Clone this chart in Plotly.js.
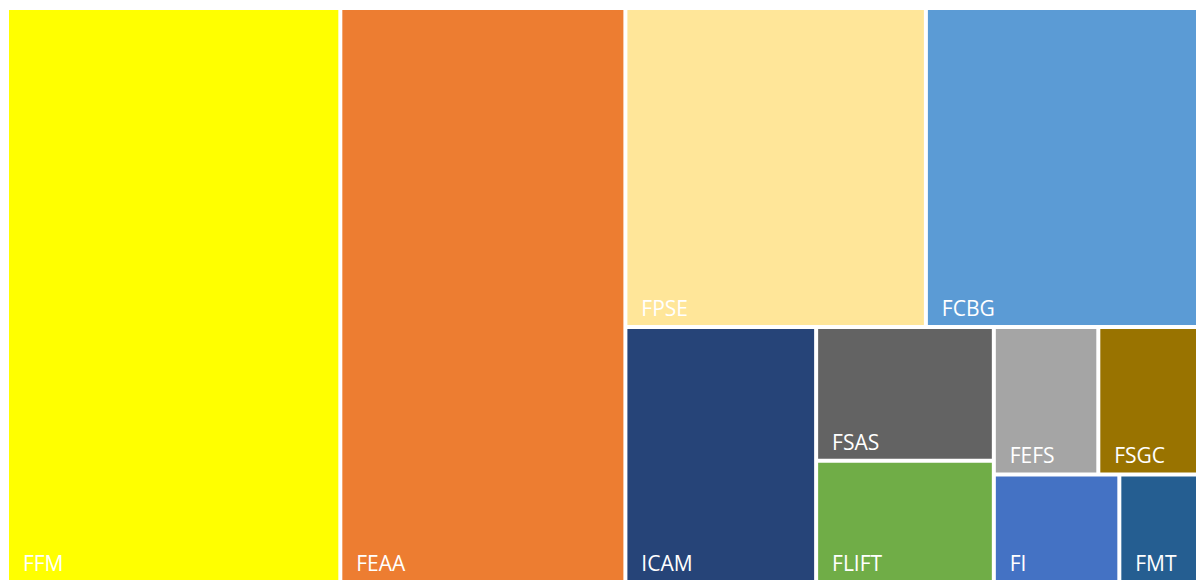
<!DOCTYPE html>
<html>
<head>
<meta charset="utf-8">
<script src="https://cdn.plot.ly/plotly-3.0.1.min.js"></script>
<style>html,body{margin:0;padding:0;background:#fff;}#chart{width:1196px;height:580px;}</style>
</head>
<body>
<div id="chart"></div>
<script>
const labels = ["FFM", "FEAA", "FPSE", "FCBG", "ICAM", "FSAS", "FLIFT", "FEFS", "FSGC", "FI", "FMT"];
const values = [1900, 1625, 952, 862, 483, 236, 214, 153, 146, 134, 84];
const colors = ["#FFFF00", "#ED7D31", "#FFE699", "#5B9BD5", "#264478", "#636363", "#70AD47", "#A5A5A5", "#997300", "#4472C4", "#255E91"];
const parents = labels.map(() => "");

const trace = {
  type: "treemap",
  labels: labels,
  parents: parents,
  values: values,
  branchvalues: "remainder",
  sort: true,
  marker: { colors: colors, line: { width: 0 }, pad: { t: 0, l: 0, r: 0, b: 0 } },
  tiling: { packing: "squarify", squarifyratio: 1, pad: 4 },
  pathbar: { visible: false },
  textposition: "bottom left",
  texttemplate: "\u00a0\u00a0%{label}",
  textfont: { family: "Open Sans, sans-serif", size: 21, color: "#FFFFFF" },
  hoverinfo: "label+value"
};

const layout = {
  width: 1196,
  height: 580,
  margin: { l: 9, r: 0, t: 10, b: 0 },
  paper_bgcolor: "#FFFFFF",
  uniformtext: { minsize: 21, mode: "show" },
  showlegend: false
};

Plotly.newPlot("chart", [trace], layout, { displayModeBar: false, staticPlot: true });
</script>
</body>
</html>
